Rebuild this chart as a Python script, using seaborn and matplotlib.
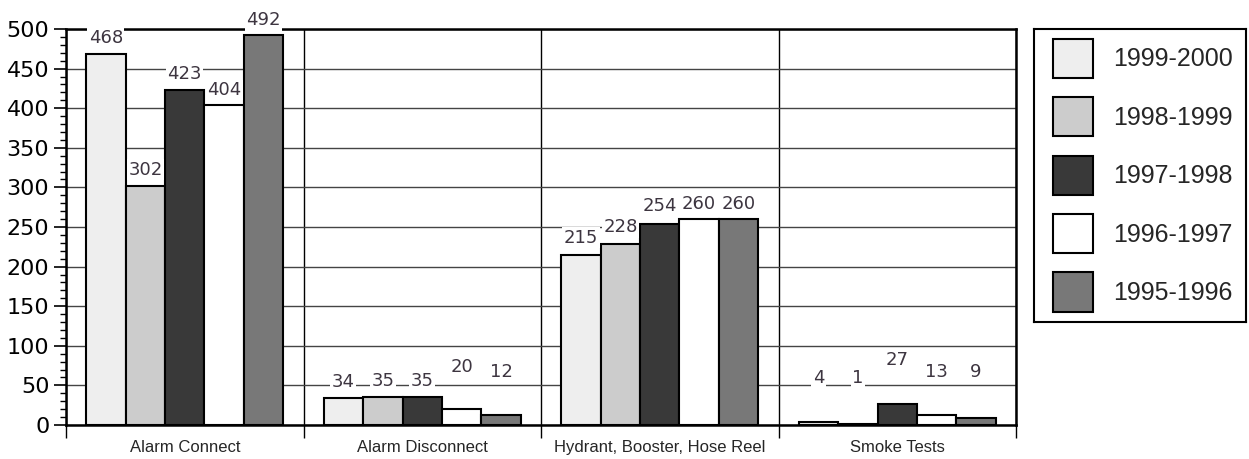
import matplotlib
matplotlib.use("Agg")
import matplotlib.pyplot as plt
from matplotlib.patches import Patch
import numpy as np
import pandas as pd
import seaborn as sns

# Call-out categories and reporting periods
categories = ["Alarm Connect", "Alarm Disconnect", "Hydrant, Booster, Hose Reel", "Smoke Tests"]
periods = ["1999-2000", "1998-1999", "1997-1998", "1996-1997", "1995-1996"]

# Counts per period, in category order
counts_1999_2000 = [468, 34, 215, 4]
counts_1998_1999 = [302, 35, 228, 1]
counts_1997_1998 = [423, 35, 254, 27]
counts_1996_1997 = [404, 20, 260, 13]
counts_1995_1996 = [492, 12, 260, 9]

y_ticks = [0, 50, 100, 150, 200, 250, 300, 350, 400, 450, 500]

# Styling
fills = ["#eeeeee", "#cccccc", "#393939", "#ffffff", "#787878"]
# vertical lift (px) of each value label above its bar, per period / category
label_lift = [
    [16, 16, 17, 44],
    [16, 16, 17, 46],
    [16, 16, 18, 44],
    [15, 42, 15, 43],
    [15, 43, 15, 46],
]

series = [counts_1999_2000, counts_1998_1999, counts_1997_1998,
          counts_1996_1997, counts_1995_1996]
df = pd.DataFrame({
    "category": np.repeat([categories], len(periods), axis=0).ravel(),
    "period": np.repeat(periods, len(categories)),
    "count": np.concatenate(series),
})

sns.set_style("white")
plt.rcParams["font.family"] = ["DejaVu Sans"]

W, H = 1249, 459
fig = plt.figure(figsize=(W / 100, H / 100), dpi=100)
ax = fig.add_axes([66 / W, 1 - 425 / H, (1016 - 66) / W, (425 - 29) / H])

sns.barplot(data=df, x="category", y="count", hue="period", order=categories,
            hue_order=periods, palette=fills, width=0.83, edgecolor="black",
            linewidth=1.5, saturation=1, legend=False, ax=ax)

ax.set_xlim(-0.5, len(categories) - 0.5)
ax.set_ylim(0, 500)
ax.set_xlabel("")
ax.set_ylabel("")

# y axis: labelled every 50, minor ticks every 10
ax.set_yticks(y_ticks)
ax.set_yticks(np.arange(0, 501, 10), minor=True)
ax.tick_params(axis="y", which="major", left=True, length=9, width=1.2,
               pad=3, labelsize=16, color="black", labelcolor="black")
ax.tick_params(axis="y", which="minor", left=True, length=4.5, width=1,
               color="black")
ax.yaxis.grid(True, which="major", color="#444444", linewidth=1)

# x axis: category names centred, separators between categories
ax.set_xticks(range(len(categories)))
ax.set_xticklabels(categories, family="Liberation Sans", fontsize=12)
ax.set_xticks(np.arange(-0.5, len(categories), 1.0), minor=True)
ax.tick_params(axis="x", which="major", length=0, pad=11)
ax.tick_params(axis="x", which="minor", bottom=True, length=9, width=1,
               color="black")
ax.xaxis.grid(True, which="minor", color="black", linewidth=1)
ax.set_axisbelow(True)

for side in ["left", "bottom", "top", "right"]:
    ax.spines[side].set_visible(True)
    ax.spines[side].set_color("black")
    ax.spines[side].set_linewidth(1.8)

# value labels on a white ground above each bar
for i, container in enumerate(ax.containers):
    for j, bar in enumerate(container):
        h = bar.get_height()
        ax.annotate(f"{h:.0f}", xy=(bar.get_x() + bar.get_width() / 2, h),
                    xytext=(0, label_lift[i][j] * 0.72), textcoords="offset points",
                    ha="center", va="center", fontsize=13, color="#3d3540",
                    bbox=dict(facecolor="white", edgecolor="none", pad=1),
                    zorder=5)

# legend in its own framed panel
lax = fig.add_axes([1034 / W, 1 - 322 / H, (1246 - 1034) / W, (322 - 29) / H])
lax.set_xticks([])
lax.set_yticks([])
for side in lax.spines.values():
    side.set_visible(True)
    side.set_color("black")
    side.set_linewidth(1.5)
handles = [Patch(facecolor=c, edgecolor="black", linewidth=1.5) for c in fills]
lax.legend(handles, periods, loc="upper left",
           bbox_to_anchor=(19 / 212, 1 - 10 / 293), frameon=False,
           borderpad=0, borderaxespad=0, handlelength=1.6, handleheight=2.03,
           labelspacing=0.77, handletextpad=0.8,
           prop={"family": "Liberation Sans", "size": 18})

fig.savefig("out.png", dpi=100)
